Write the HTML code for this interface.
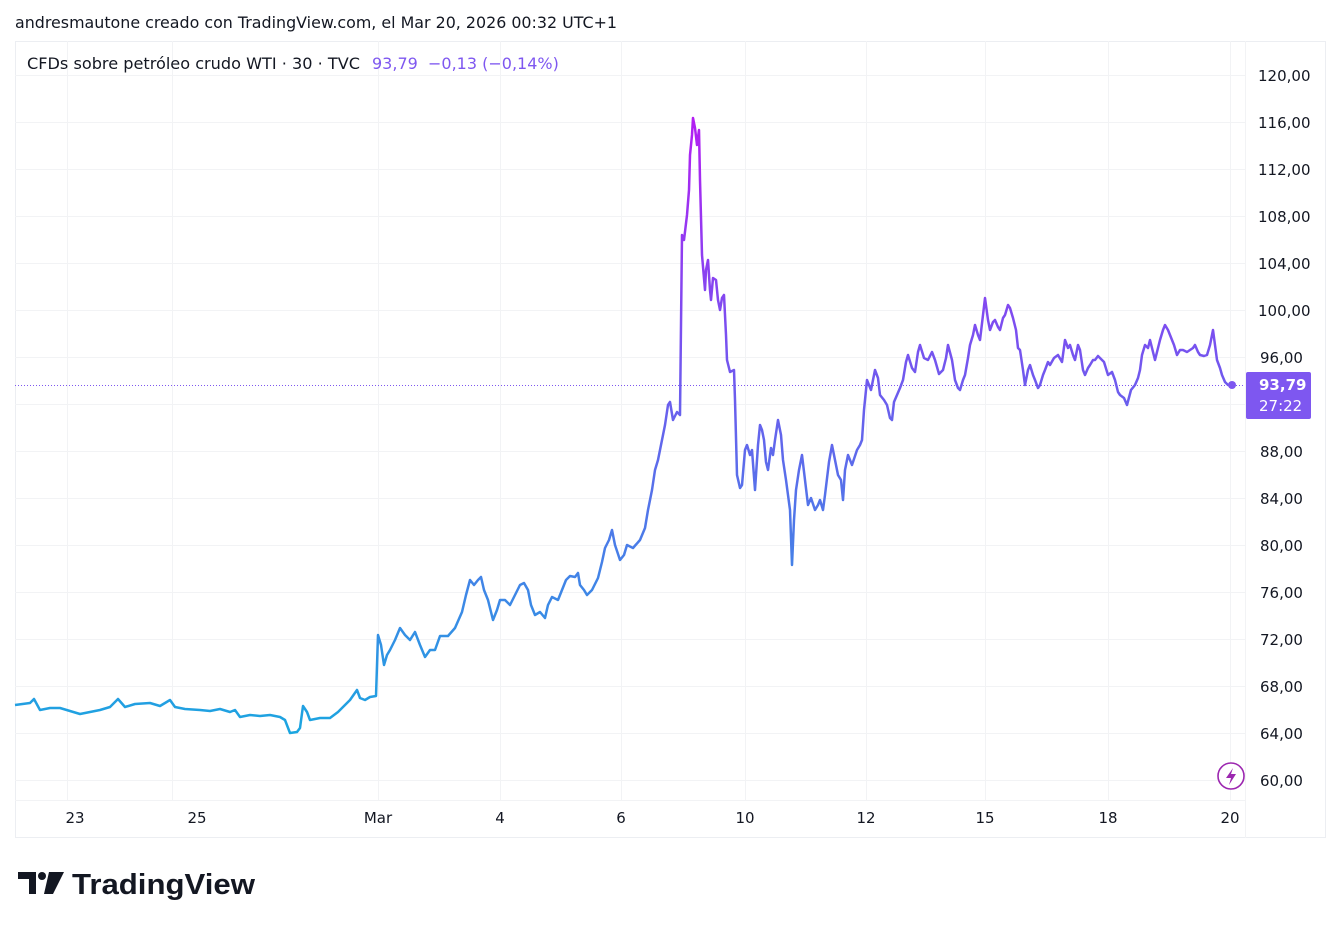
<!DOCTYPE html>
<html><head><meta charset="utf-8"><style>
html,body{margin:0;padding:0;background:#fff;width:1341px;height:928px;overflow:hidden;font-family:"DejaVu Sans","Liberation Sans",sans-serif;}
svg{position:absolute;left:0;top:0}
</style></head><body>
<svg width="1341" height="928" viewBox="0 0 1341 928" xmlns="http://www.w3.org/2000/svg">
<defs>
<linearGradient id="g" gradientUnits="userSpaceOnUse" x1="0" y1="118" x2="0" y2="735">
<stop offset="0" stop-color="#b31ef2"/>
<stop offset="0.33" stop-color="#7d4df0"/>
<stop offset="0.78" stop-color="#3d88e6"/>
<stop offset="1" stop-color="#1aa6e0"/>
</linearGradient>
</defs>
<text x="15" y="28" font-size="16" fill="#131722" textLength="602" lengthAdjust="spacingAndGlyphs">andresmautone creado con TradingView.com, el Mar 20, 2026 00:32 UTC+1</text>
<rect x="15.5" y="41.5" width="1310" height="796" fill="none" stroke="#eceef2"/>
<g stroke="#f2f3f5" stroke-width="1">
<line x1="15" y1="75.5" x2="1245" y2="75.5"/><line x1="15" y1="122.5" x2="1245" y2="122.5"/><line x1="15" y1="169.5" x2="1245" y2="169.5"/><line x1="15" y1="216.5" x2="1245" y2="216.5"/><line x1="15" y1="263.5" x2="1245" y2="263.5"/><line x1="15" y1="310.5" x2="1245" y2="310.5"/><line x1="15" y1="357.5" x2="1245" y2="357.5"/><line x1="15" y1="404.5" x2="1245" y2="404.5"/><line x1="15" y1="451.5" x2="1245" y2="451.5"/><line x1="15" y1="498.5" x2="1245" y2="498.5"/><line x1="15" y1="545.5" x2="1245" y2="545.5"/><line x1="15" y1="592.5" x2="1245" y2="592.5"/><line x1="15" y1="639.5" x2="1245" y2="639.5"/><line x1="15" y1="686.5" x2="1245" y2="686.5"/><line x1="15" y1="733.5" x2="1245" y2="733.5"/><line x1="15" y1="780.5" x2="1245" y2="780.5"/>
<line x1="67.5" y1="41" x2="67.5" y2="800"/><line x1="172.5" y1="41" x2="172.5" y2="800"/><line x1="378.5" y1="41" x2="378.5" y2="800"/><line x1="500.5" y1="41" x2="500.5" y2="800"/><line x1="621.5" y1="41" x2="621.5" y2="800"/><line x1="745.5" y1="41" x2="745.5" y2="800"/><line x1="866.5" y1="41" x2="866.5" y2="800"/><line x1="985.5" y1="41" x2="985.5" y2="800"/><line x1="1108.5" y1="41" x2="1108.5" y2="800"/><line x1="1230.5" y1="41" x2="1230.5" y2="800"/>
<line x1="1245.5" y1="41" x2="1245.5" y2="838"/><line x1="15" y1="800.5" x2="1245" y2="800.5"/>
</g>
<text x="27" y="69" font-size="16" fill="#131722"><tspan textLength="333" lengthAdjust="spacingAndGlyphs">CFDs sobre petróleo crudo WTI · 30 · TVC</tspan><tspan fill="#7e57f0" x="372">93,79</tspan><tspan fill="#7e57f0" x="428">−0,13 (−0,14%)</tspan></text>
<line x1="15" y1="385.5" x2="1245" y2="385.5" stroke="#7e57f0" stroke-dasharray="1 2"/>
<polyline fill="none" stroke="url(#g)" stroke-width="2.5" stroke-linejoin="round" points="15,705 30,703 34,699 40,710 50,708 60,708 70,711 80,714 90,712 100,710 110,707 118,699 125,707 135,704 150,703 160,706 170,700 175,707 185,709 200,710 210,711 220,709 230,712 235,710 240,717 250,715 260,716 270,715 280,717 285,720 290,733 297,732 300,728 303,706 307,712 310,720 320,718 330,718 338,712 345,705 350,700 357,690 360,698 365,700 370,697 376,696 378,635 381,645 384,665 387,655 390,650 395,640 400,628 405,635 410,640 415,632 420,645 425,657 430,650 435,650 440,636 448,636 455,628 462,612 466,595 470,580 474,585 478,580 481,577 484,590 488,600 493,620 497,610 500,600 505,600 510,605 515,595 520,585 524,583 528,590 531,605 535,615 540,612 545,618 548,605 552,597 558,600 562,590 566,580 570,576 575,577 578,573 580,585 584,590 587,595 592,590 598,578 602,562 605,548 609,540 612,530 615,545 620,560 624,555 627,545 633,548 640,540 645,528 648,510 652,490 655,470 658,460 662,440 665,425 668,405 670,402 673,420 677,412 680,415 682,235 684,240 687,215 689,190 690,155 692,135 693,118 695,128 697,145 699,130 700,180 702,255 705,290 706,270 708,260 710,290 711,300 713,278 716,280 718,300 720,310 722,298 724,295 726,335 727,360 730,372 734,370 735,400 737,475 740,488 742,485 745,450 747,445 750,455 752,450 755,490 758,445 760,425 762,430 764,440 766,462 768,470 771,448 773,455 775,440 778,420 781,435 783,460 786,480 788,495 790,510 792,565 794,520 796,490 799,470 802,455 805,480 808,505 811,498 815,510 818,505 820,500 823,510 825,495 829,462 832,445 835,460 838,475 841,480 843,500 845,470 848,455 852,465 857,450 860,445 862,440 864,410 867,380 871,390 875,370 878,378 880,395 884,400 887,405 890,418 892,420 894,402 897,395 900,388 903,380 906,362 908,355 912,368 915,372 918,352 920,345 924,358 928,360 932,352 935,360 939,374 943,370 946,358 948,345 952,360 955,380 958,388 960,390 963,380 965,375 968,358 970,345 973,335 975,325 978,335 980,340 983,315 985,298 988,320 990,330 993,322 995,320 998,327 1000,330 1003,318 1005,315 1008,305 1010,308 1013,318 1016,330 1018,348 1020,350 1023,370 1025,385 1028,370 1030,365 1033,375 1035,380 1038,388 1040,385 1043,375 1045,370 1048,362 1050,365 1054,358 1058,355 1062,362 1065,340 1068,348 1070,345 1073,355 1075,360 1078,345 1080,350 1083,370 1085,375 1088,368 1090,365 1093,360 1095,360 1098,356 1100,358 1104,362 1108,375 1112,372 1115,380 1118,392 1120,395 1124,398 1127,405 1131,390 1135,385 1138,378 1140,370 1142,355 1145,345 1148,348 1150,340 1153,352 1155,360 1158,348 1160,340 1163,330 1165,325 1168,330 1170,335 1174,345 1177,355 1180,350 1183,350 1187,352 1190,350 1193,348 1195,345 1198,352 1200,355 1204,356 1207,355 1210,345 1213,330 1215,345 1217,360 1220,368 1222,375 1225,382 1228,385 1232,385"/>
<circle cx="1232" cy="385" r="4" fill="#7e57f0"/>
<g font-size="15" fill="#131722" text-anchor="start">
<text x="1258" y="81">120,00</text><text x="1258" y="128">116,00</text><text x="1258" y="175">112,00</text><text x="1258" y="222">108,00</text><text x="1258" y="269">104,00</text><text x="1258" y="316">100,00</text><text x="1260" y="363">96,00</text><text x="1260" y="457">88,00</text><text x="1260" y="504">84,00</text><text x="1260" y="551">80,00</text><text x="1260" y="598">76,00</text><text x="1260" y="645">72,00</text><text x="1260" y="692">68,00</text><text x="1260" y="739">64,00</text><text x="1260" y="786">60,00</text>
</g>
<rect x="1246" y="372" width="65" height="47" rx="2" fill="#7e57f0"/>
<text x="1259" y="390" font-size="15" font-weight="bold" fill="#fff">93,79</text>
<text x="1259" y="411" font-size="15" fill="#fff">27:22</text>
<circle cx="1231" cy="776" r="13" fill="#fff" stroke="#9c27b0" stroke-width="1.6"/>
<path d="M1233 768 L1226 778 L1231 778 L1229 785 L1236 774 L1231 774 Z" fill="#9c27b0"/>
<g font-size="15" fill="#131722" text-anchor="middle">
<text x="75" y="823">23</text><text x="197" y="823">25</text><text x="378" y="823">Mar</text><text x="500" y="823">4</text><text x="621" y="823">6</text><text x="745" y="823">10</text><text x="866" y="823">12</text><text x="985" y="823">15</text><text x="1108" y="823">18</text><text x="1230" y="823">20</text>
</g>
<g fill="#131722">
<path d="M18 872 H36 V894 H29 V879 H18 Z"/>
<circle cx="42" cy="876" r="4"/>
<path d="M49 872 H64 L53 894 H44 Z"/>
</g>
<text x="72" y="894" font-size="29" font-weight="bold" fill="#131722" font-family="Liberation Sans, sans-serif" textLength="183" lengthAdjust="spacingAndGlyphs">TradingView</text>
</svg>
</body></html>
